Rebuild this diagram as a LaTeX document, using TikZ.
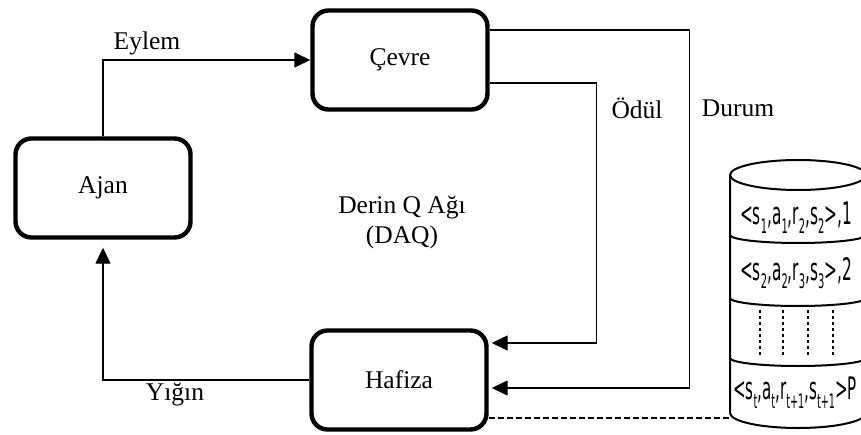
\documentclass[tikz,border=0pt]{standalone}
\usepackage{fontspec}
\setmainfont{Liberation Serif}
\newfontfamily\memfont{DejaVu Sans Condensed}
\usetikzlibrary{positioning,arrows.meta,calc}
\newcommand{\narrow}[2]{\scalebox{#1}[1]{#2}}
\newcommand{\sbx}[1]{\raisebox{-0.28em}{\fontsize{20}{20}\selectfont #1}}

\begin{document}
\begin{tikzpicture}[x=1pt, y=1pt,
  every node/.style={font=\fontsize{25.5}{30}\selectfont},
  box/.style={rectangle, rounded corners=16pt, draw=black, line width=4.4pt,
              minimum width=175pt, minimum height=99pt, inner sep=0pt},
  arr/.style={-{Triangle[length=16pt, width=15pt]}, line width=1.4pt},
  lbl/.style={inner sep=0pt},
  rec/.style={font=\memfont\fontsize{31}{34}\selectfont, inner sep=0pt},
  mem/.style={line width=2pt},
  link/.style={dash pattern=on 6pt off 3pt, line width=2.2pt}
]
  \useasboundingbox (0,0) rectangle (861,434);
  \clip (0,0) rectangle (861,434);
  \node[box] (ajan) at (103,246) {Ajan};
  \node[box] (cevre) at (400,374) {Çevre};
  \node[box] (hafiza) at (399,54) {Hafiza};
  \node[lbl] (eylem) at (147,391) {Eylem};
  \node[lbl] (yigin) at (175,39) {Yığın};
  \node[lbl] (odul) at (637,326) {Ödül};
  \node[lbl] (durum) at (738,326) {Durum};
  \node[lbl, align=center] (daq) at (402,211) {Derin Q Ağı\\(DAQ)};
  \draw[mem, fill=white] (730,259) -- (730,21) arc[start angle=180, end angle=360, x radius=68, y radius=15] -- (866,259);
  \draw[mem] (798,259) ellipse[x radius=68, y radius=15];
  \foreach \y in {199,136,76}
    \draw[mem] (730,\y) arc[start angle=180, end angle=360, x radius=68, y radius=8];
  \foreach \x in {760,783,808,833}
    \draw[dashed, line width=1.2pt] (\x,124) -- (\x,77);
  \coordinate (memL) at (730,16);
  \node[rec] (rec1) at (796,216) {\narrow{0.55}{<s\sbx{1},a\sbx{1},r\sbx{2},s\sbx{2}>,1}};
  \node[rec] (rec2) at (796,161) {\narrow{0.55}{<s\sbx{2},a\sbx{2},r\sbx{3},s\sbx{3}>,2}};
  \node[rec, anchor=west] (rect) at (733,41) {\narrow{0.54}{<s\sbx{t},a\sbx{t},r\sbx{t+1},s\sbx{t+1}>P}};
  \draw[arr] (ajan.north) |- (cevre.west);
  \draw[arr, shorten >=8pt] (hafiza.west) -| (ajan.south);
  \draw[arr, shorten >=3pt] ([yshift=30pt]cevre.east) -- ++(200,0) |- ([yshift=-8pt]hafiza.east);
  \draw[arr, shorten >=3pt] ([yshift=-23pt]cevre.east) -- ++(107,0) |- ([yshift=37pt]hafiza.east);
  \draw[link] ([yshift=-38pt]hafiza.east) -- (memL);
\end{tikzpicture}
\end{document}
